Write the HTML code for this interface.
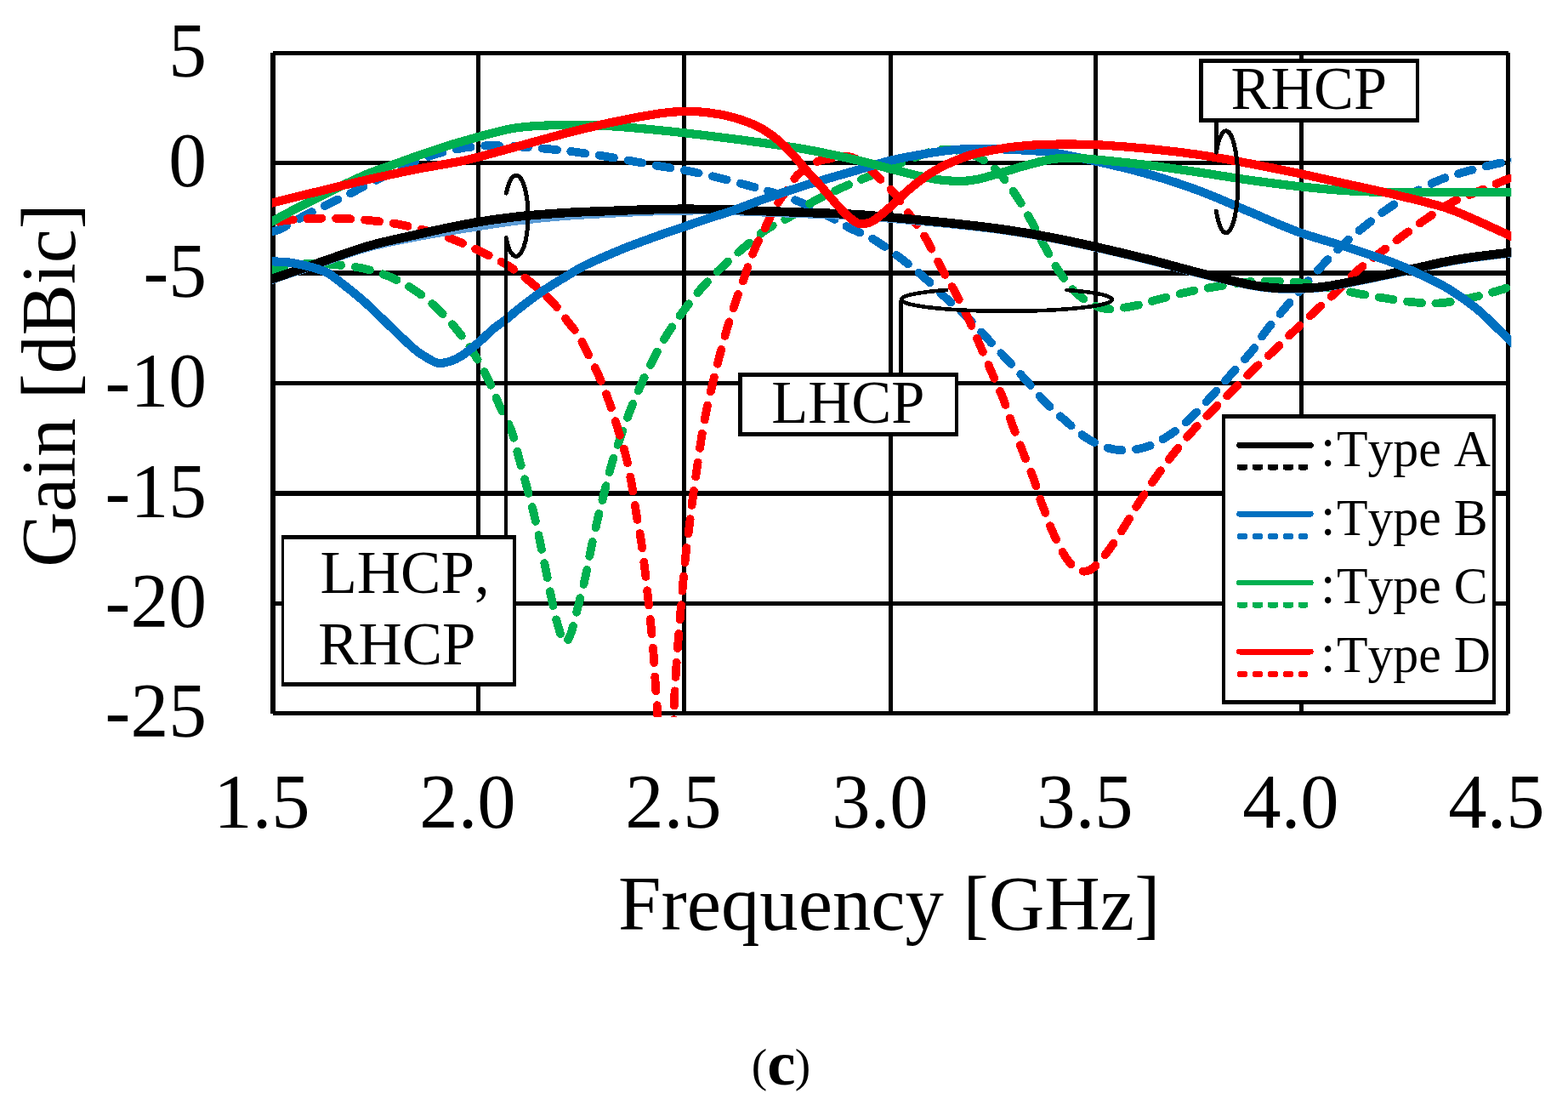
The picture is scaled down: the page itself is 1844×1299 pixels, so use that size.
<!DOCTYPE html>
<html lang="en"><head><meta charset="utf-8"><title>Gain vs Frequency (c)</title>
<style>
html,body{margin:0;padding:0;background:#fff;}
body{width:1844px;height:1299px;overflow:hidden;}
svg{display:block;}
text{font-family:"Liberation Serif","Times New Roman",serif;fill:#000;font-kerning:none;font-variant-ligatures:none;}
.g{stroke:#000;fill:none;}
.c{fill:none;stroke-linejoin:round;}
</style></head><body>
<svg width="1844" height="1299" viewBox="0 0 1844 1299" shape-rendering="crispEdges">
<defs><clipPath id="cp"><rect x="320" y="58" width="1457.3" height="785"/></clipPath></defs>
<rect width="1844" height="1299" fill="#fff"/>
<g fill="#000">
<rect x="560.0" y="62" width="5" height="777"/>
<rect x="802.0" y="62" width="5" height="777"/>
<rect x="1045.0" y="62" width="5" height="777"/>
<rect x="1286.0" y="62" width="5" height="777"/>
<rect x="1528.0" y="62" width="5" height="777"/>
<rect x="320" y="189.0" width="1454" height="5"/>
<rect x="320" y="318.3" width="1454" height="5.4"/>
<rect x="320" y="448.0" width="1454" height="5"/>
<rect x="320" y="577.2" width="1454" height="5.6"/>
<rect x="320" y="707.0" width="1454" height="5"/>
<rect x="318" y="62" width="6" height="777"/>
<rect x="1771" y="62" width="5" height="777"/>
<rect x="321" y="60" width="1453" height="5"/>
<rect x="321" y="836" width="1453" height="5"/>
</g>
<g clip-path="url(#cp)">
<g class="c" stroke="#0070c0" stroke-width="9.8" stroke-linecap="round" stroke-dasharray="17.3 16.53">
<path d="M316.0 274.0C316.7 273.7 317.7 273.1 320.0 272.3C322.3 271.5 323.2 272.3 329.8 269.1C336.4 265.9 349.5 258.0 359.4 252.9C369.3 247.8 379.2 243.3 389.1 238.5C399.0 233.7 408.9 228.9 419.0 223.8C429.1 218.7 439.9 213.0 450.0 208.0C460.1 203.0 469.2 198.0 479.5 193.6C489.8 189.2 501.9 184.5 512.0 181.4C522.1 178.3 533.4 176.3 540.0 174.9C546.6 173.5 545.4 173.6 551.7 173.0C558.0 172.4 568.1 171.2 577.9 171.1C587.7 171.0 599.0 171.7 610.4 172.4C621.8 173.1 635.1 174.2 646.5 175.3C657.9 176.4 668.0 177.6 679.0 179.0C690.0 180.4 701.5 182.1 712.7 183.9C723.9 185.7 736.3 188.1 746.3 189.9C756.3 191.7 766.2 193.7 772.5 194.8C778.8 195.9 777.5 195.4 784.2 196.6C790.9 197.8 802.6 199.6 812.9 201.7C823.2 203.8 835.0 206.5 846.0 209.2C857.0 211.9 868.7 215.1 879.0 217.9C889.3 220.7 897.5 222.8 907.7 226.0C917.9 229.2 928.6 232.3 940.2 237.3C951.9 242.3 967.6 250.8 977.6 256.0C987.6 261.2 991.8 264.2 1000.0 268.4C1008.2 272.6 1016.7 275.0 1026.7 281.0C1036.7 287.0 1049.8 296.5 1060.0 304.2C1070.2 311.9 1078.9 319.2 1087.8 327.0C1096.7 334.8 1105.0 343.5 1113.3 351.2C1121.6 358.9 1129.5 365.3 1137.4 373.0C1145.3 380.7 1152.8 389.1 1160.5 397.3C1168.2 405.5 1176.1 413.9 1183.8 422.2C1191.5 430.5 1198.9 438.5 1206.5 446.9C1214.1 455.3 1221.3 464.6 1229.2 472.7C1237.1 480.8 1245.5 488.2 1253.9 495.4C1262.3 502.6 1270.2 510.5 1279.7 516.0C1289.2 521.5 1299.9 526.7 1310.7 528.4C1321.5 530.1 1334.1 529.1 1344.7 526.4C1355.3 523.6 1365.3 517.8 1374.6 511.9C1383.9 506.0 1392.2 498.9 1400.4 491.3C1408.7 483.7 1416.5 474.8 1424.1 466.5C1431.7 458.2 1438.3 450.7 1446.2 441.8C1454.1 432.9 1464.5 422.3 1471.7 413.4C1478.9 404.5 1482.7 397.0 1489.2 388.5C1495.8 380.0 1503.7 370.9 1511.0 362.3C1518.3 353.7 1525.5 345.2 1532.9 336.7C1540.3 328.2 1547.9 319.6 1555.6 311.4C1563.3 303.2 1571.0 295.1 1579.3 287.5C1587.6 279.9 1596.4 272.8 1605.2 265.8C1614.0 258.8 1622.9 251.7 1632.0 245.4C1641.1 239.1 1650.0 233.6 1660.0 228.0C1670.0 222.4 1681.3 216.4 1691.8 212.1C1702.3 207.8 1712.5 205.0 1723.2 201.9C1733.9 198.8 1747.2 195.6 1756.2 193.4C1765.2 191.2 1773.2 189.8 1777.3 189.0C1781.4 188.2 1780.4 188.4 1781.0 188.3" stroke-dashoffset="-5.63"/>
</g>
<g class="c" stroke="#00b050" stroke-width="9.8" stroke-linecap="round" stroke-dasharray="17.3 16.53">
<path d="M316.0 317.6C316.7 317.5 318.4 317.3 320.0 317.0C321.6 316.7 318.5 317.2 325.5 316.0C332.5 314.8 350.7 310.8 361.9 310.0C373.1 309.2 381.9 310.2 392.8 311.1C403.7 312.0 416.1 313.2 427.1 315.6C438.1 318.0 448.6 321.2 458.9 325.6C469.1 330.0 479.2 335.5 488.6 341.8C498.0 348.1 506.8 355.6 515.0 363.4C523.2 371.1 530.8 379.6 537.8 388.3C544.8 397.0 551.2 406.0 557.2 415.4C563.2 424.8 568.7 434.9 573.6 444.9C578.5 454.9 582.1 464.9 586.8 475.2C591.5 485.5 597.6 496.1 601.6 506.8C605.6 517.5 607.5 528.4 610.5 539.2C613.5 550.0 616.4 560.8 619.3 571.7C622.2 582.6 625.4 593.6 628.0 604.6C630.6 615.6 632.9 626.6 635.2 637.6C637.5 648.6 639.8 659.6 642.0 670.6C644.2 681.6 646.2 692.6 648.6 703.6C651.0 714.6 653.9 728.1 656.5 736.6C659.1 745.1 661.6 753.4 664.1 754.8C666.6 756.2 668.7 751.6 671.3 744.8C673.9 738.0 676.8 724.9 679.6 713.9C682.4 702.9 685.8 690.1 688.3 678.8C690.8 667.4 692.6 656.8 694.9 645.8C697.2 634.8 700.0 622.8 702.3 612.8C704.6 602.8 706.1 597.1 708.9 586.0C711.7 574.9 715.8 557.7 719.2 546.0C722.6 534.3 725.5 526.1 729.1 515.6C732.7 505.1 736.8 493.6 740.9 483.0C745.0 472.4 749.3 462.3 753.9 452.1C758.5 441.9 763.4 431.8 768.7 421.6C774.0 411.4 779.9 400.4 785.9 390.9C791.9 381.4 798.0 373.2 804.6 364.4C811.2 355.6 818.3 346.4 825.8 337.9C833.3 329.4 841.5 321.3 849.5 313.6C857.5 305.9 865.2 299.2 873.9 291.9C882.6 284.6 892.4 275.8 901.5 269.7C910.6 263.6 918.8 260.9 928.3 255.3C937.8 249.7 947.8 241.8 958.2 236.0C968.6 230.2 980.8 224.9 990.7 220.4C1000.6 215.9 1008.0 213.1 1017.4 209.2C1026.8 205.3 1036.8 201.3 1047.2 197.0C1057.6 192.7 1071.2 186.8 1080.0 183.5C1088.8 180.2 1094.2 178.3 1100.0 177.0C1105.8 175.7 1109.2 175.3 1115.0 175.6C1120.8 175.9 1128.1 176.9 1135.0 179.0C1141.9 181.1 1149.6 183.8 1156.4 188.0C1163.2 192.2 1169.2 197.0 1175.8 204.2C1182.3 211.4 1189.6 221.8 1195.7 231.0C1201.8 240.2 1207.0 249.7 1212.6 259.7C1218.2 269.7 1223.7 280.9 1229.2 290.8C1234.7 300.7 1239.2 310.0 1245.5 319.2C1251.8 328.4 1258.8 338.8 1267.3 346.0C1275.8 353.2 1286.2 359.9 1296.6 362.3C1307.0 364.7 1318.8 362.1 1329.7 360.4C1340.6 358.7 1351.2 354.8 1362.1 352.0C1373.0 349.2 1384.2 346.1 1395.2 343.6C1406.2 341.2 1416.3 339.3 1428.2 337.3C1440.1 335.3 1455.5 332.6 1466.8 331.5C1478.1 330.4 1485.6 330.4 1496.1 330.5C1506.6 330.6 1518.7 331.1 1530.0 332.4C1541.3 333.7 1552.6 336.4 1563.8 338.5C1575.0 340.6 1586.0 343.1 1597.1 345.1C1608.2 347.2 1619.1 349.1 1630.2 350.8C1641.3 352.5 1652.7 354.5 1663.5 355.4C1674.3 356.3 1683.4 357.2 1695.0 356.2C1706.6 355.2 1722.0 351.8 1733.3 349.3C1744.6 346.8 1755.8 343.5 1763.1 341.4C1770.4 339.3 1774.3 337.5 1777.3 336.5C1780.3 335.5 1780.4 335.4 1781.0 335.2" stroke-dashoffset="-1.17"/>
</g>
<g class="c" stroke="#ff0000" stroke-width="9.8" stroke-linecap="round" stroke-dasharray="17.3 16.53">
<path d="M316.0 263.0C316.7 262.9 316.6 263.1 320.0 262.5C323.4 261.9 328.4 260.0 336.7 259.1C345.0 258.2 358.8 257.2 370.0 256.9C381.2 256.5 392.8 256.6 404.1 257.0C415.4 257.4 426.6 258.2 437.7 259.4C448.8 260.6 460.0 262.0 471.0 264.1C482.0 266.2 493.0 268.7 503.9 271.8C514.8 274.9 525.6 278.6 536.3 282.8C547.0 287.0 558.1 292.1 568.2 297.0C578.3 301.9 587.9 306.4 597.1 312.1C606.3 317.8 614.5 324.1 623.3 331.2C632.0 338.3 641.7 346.6 649.6 355.0C657.5 363.4 665.4 375.2 670.5 381.6C675.6 388.0 677.0 388.8 680.0 393.5C683.0 398.2 684.3 401.9 688.3 409.8C692.2 417.7 699.1 430.4 703.7 440.7C708.3 451.0 712.3 461.2 716.1 471.7C719.9 482.2 723.1 492.9 726.4 503.7C729.7 514.5 733.4 525.4 736.1 536.3C738.9 547.2 740.9 558.3 742.9 569.3C744.9 580.3 746.3 591.5 748.1 602.5C749.9 613.5 752.2 624.3 753.9 635.5C755.6 646.7 757.0 658.4 758.4 669.6C759.8 680.8 760.9 691.4 762.1 702.6C763.3 713.8 764.5 725.3 765.6 736.6C766.7 747.9 767.8 759.4 768.7 770.6C769.6 781.8 770.0 792.6 770.8 803.6C771.5 814.6 772.6 827.2 773.2 836.7C773.8 846.2 772.9 847.7 774.5 860.4C776.1 873.1 780.2 913.0 783.0 913.0C785.8 913.0 789.7 875.7 791.4 860.4C793.1 845.1 792.5 833.4 793.1 821.2C793.7 809.0 794.4 798.5 795.1 787.1C795.9 775.8 796.7 764.3 797.6 753.1C798.5 741.9 799.4 731.3 800.3 720.1C801.2 708.9 802.2 697.3 803.2 686.1C804.2 674.9 805.1 664.2 806.3 653.0C807.5 641.8 809.3 629.5 810.6 619.0C811.9 608.5 812.7 601.1 814.1 590.1C815.5 579.1 817.4 566.2 819.3 553.2C821.2 540.2 823.3 524.3 825.4 511.9C827.5 499.5 829.4 489.5 831.6 478.9C833.8 468.2 836.6 457.3 838.8 448.0C841.0 438.7 842.4 433.2 845.0 423.2C847.6 413.2 851.0 399.7 854.5 388.0C858.0 376.3 862.1 363.7 865.7 353.1C869.3 342.5 872.9 332.9 876.0 324.2C879.1 315.5 881.5 307.9 884.2 301.0C886.9 294.1 889.3 288.6 892.0 283.0C894.7 277.4 897.6 272.5 900.2 267.2C902.8 261.9 905.0 256.2 907.7 251.0C910.4 245.8 913.6 240.6 916.5 236.0C919.4 231.4 921.7 228.5 925.2 223.5C928.7 218.5 933.1 210.9 937.7 206.1C942.3 201.3 948.0 197.7 952.6 194.8C957.2 191.9 959.9 190.1 965.1 188.6C970.3 187.1 978.0 186.3 983.8 185.6C989.6 184.9 994.5 183.1 1000.0 184.4C1005.5 185.7 1011.8 189.9 1017.0 193.6C1022.2 197.3 1025.3 201.1 1031.1 206.7C1036.9 212.3 1044.6 218.8 1051.7 227.3C1058.8 235.8 1067.5 249.3 1073.5 257.8C1079.5 266.3 1081.9 268.3 1087.8 278.4C1093.7 288.5 1103.0 307.4 1109.0 318.5C1115.0 329.6 1118.9 335.2 1124.0 344.8C1129.1 354.4 1134.6 365.5 1139.4 375.8C1144.2 386.1 1148.3 396.4 1152.8 406.7C1157.3 417.0 1161.7 427.4 1166.2 437.7C1170.7 448.0 1175.6 458.1 1179.7 468.6C1183.8 479.1 1187.0 490.0 1191.0 500.6C1195.0 511.2 1199.3 522.0 1203.4 532.5C1207.5 543.0 1212.5 554.6 1215.8 563.5C1219.1 572.4 1220.8 579.5 1223.0 586.0C1225.2 592.5 1226.6 595.8 1229.2 602.5C1231.8 609.2 1234.3 617.3 1238.4 626.2C1242.5 635.1 1249.2 649.1 1253.9 656.1C1258.6 663.1 1262.5 665.9 1266.3 668.5C1270.1 671.1 1273.2 671.9 1276.6 671.6C1280.0 671.3 1282.2 670.8 1286.9 666.5C1291.6 662.2 1298.5 653.9 1304.5 645.8C1310.5 637.7 1317.3 626.9 1323.0 618.0C1328.7 609.1 1332.5 601.6 1338.5 592.2C1344.5 582.8 1352.2 571.2 1359.1 561.4C1366.0 551.6 1372.8 542.5 1379.8 533.6C1386.8 524.7 1393.9 516.2 1401.4 507.8C1409.0 499.4 1417.3 490.9 1425.1 483.0C1432.9 475.1 1440.3 468.3 1448.3 460.4C1456.3 452.5 1464.7 443.6 1473.0 435.6C1481.3 427.6 1489.8 420.1 1497.9 412.4C1506.1 404.6 1513.8 396.9 1521.9 389.1C1530.0 381.3 1538.4 373.4 1546.6 365.8C1554.8 358.2 1562.7 351.5 1570.9 343.6C1579.2 335.7 1587.5 326.0 1596.1 318.4C1604.7 310.8 1613.5 304.5 1622.3 297.7C1631.1 290.9 1639.9 284.3 1649.1 277.6C1658.2 270.9 1667.5 263.9 1677.2 257.3C1686.9 250.7 1697.1 243.5 1707.0 238.2C1716.9 232.9 1726.9 229.8 1736.8 225.7C1746.7 221.5 1759.5 216.1 1766.2 213.3C1773.0 210.5 1774.8 209.9 1777.3 209.0C1779.8 208.1 1780.4 207.8 1781.0 207.6" stroke-dashoffset="-11.96"/>
</g>
<path class="c" d="M316.0 330.2C316.7 330.0 310.1 332.2 320.0 328.8C329.9 325.4 356.6 316.2 375.4 309.8C394.2 303.5 413.7 296.0 432.8 290.8C451.9 285.6 470.9 282.1 490.1 278.4C509.3 274.7 528.8 271.6 548.0 268.5C567.2 265.4 586.3 262.3 605.4 259.9C624.5 257.5 643.7 255.6 662.8 254.1C681.9 252.6 700.9 251.7 720.1 250.7C739.3 249.7 758.8 248.7 778.0 248.2C797.2 247.7 816.3 247.3 835.4 247.5C854.5 247.7 873.7 248.7 892.8 249.4C911.9 250.1 930.9 250.8 950.1 251.5C969.3 252.2 988.8 252.5 1008.0 253.7C1027.2 254.8 1046.3 256.8 1065.4 258.5C1084.5 260.2 1103.7 261.9 1122.8 263.9C1141.9 265.9 1160.9 267.9 1180.1 270.6C1199.3 273.3 1218.8 276.6 1238.0 280.2C1257.2 283.8 1276.3 288.2 1295.4 292.5C1314.5 296.8 1333.7 301.4 1352.8 306.2C1371.9 311.0 1390.9 316.6 1410.1 321.4C1429.3 326.2 1453.6 332.0 1468.0 335.0C1482.4 338.0 1487.1 338.3 1496.7 339.1C1506.3 339.9 1515.8 339.9 1525.4 339.8C1535.0 339.6 1544.5 339.3 1554.1 338.2C1563.7 337.2 1573.2 335.2 1582.8 333.5C1592.3 331.7 1601.9 329.7 1611.4 327.7C1621.0 325.7 1630.5 323.8 1640.1 321.7C1649.7 319.6 1659.1 317.5 1668.8 315.4C1678.5 313.3 1688.0 310.8 1698.0 308.9C1708.0 306.9 1715.3 305.6 1728.5 303.7C1741.7 301.8 1768.2 298.7 1777.0 297.6C1785.8 296.5 1780.3 297.2 1781.0 297.1" stroke="#5b9bd5" stroke-width="10"/>
<path class="c" d="M316.0 329.4C316.7 329.2 310.1 331.4 320.0 328.0C329.9 324.6 356.6 315.2 375.4 308.8C394.2 302.4 413.7 294.8 432.8 289.3C451.9 283.8 470.9 280.1 490.1 275.8C509.3 271.5 528.8 267.0 548.0 263.5C567.2 260.0 586.3 257.2 605.4 255.0C624.5 252.8 643.7 251.5 662.8 250.3C681.9 249.1 700.9 248.6 720.1 247.9C739.3 247.2 758.8 246.3 778.0 246.0C797.2 245.7 816.3 245.7 835.4 246.0C854.5 246.3 873.7 247.2 892.8 247.9C911.9 248.6 930.9 249.3 950.1 250.0C969.3 250.7 988.8 251.0 1008.0 252.2C1027.2 253.4 1046.3 255.4 1065.4 257.2C1084.5 259.0 1103.7 260.7 1122.8 262.8C1141.9 264.9 1160.9 266.9 1180.1 269.7C1199.3 272.5 1218.8 275.8 1238.0 279.5C1257.2 283.2 1276.3 287.5 1295.4 291.8C1314.5 296.1 1333.7 300.7 1352.8 305.5C1371.9 310.3 1390.9 315.9 1410.1 320.7C1429.3 325.5 1453.6 331.4 1468.0 334.3C1482.4 337.2 1487.1 337.6 1496.7 338.4C1506.3 339.2 1515.8 339.2 1525.4 339.0C1535.0 338.8 1544.5 338.5 1554.1 337.4C1563.7 336.3 1573.2 334.4 1582.8 332.6C1592.3 330.8 1601.9 328.8 1611.4 326.8C1621.0 324.8 1630.5 322.9 1640.1 320.8C1649.7 318.8 1659.1 316.6 1668.8 314.5C1678.5 312.4 1688.0 309.9 1698.0 308.0C1708.0 306.1 1715.3 304.7 1728.5 302.8C1741.7 300.9 1768.2 297.8 1777.0 296.7C1785.8 295.6 1780.3 296.3 1781.0 296.2" stroke="#000" stroke-width="10.6"/>
<path class="c" d="M316.0 307.2C316.7 307.2 315.2 306.9 320.0 307.3C324.8 307.7 334.9 307.4 345.0 309.3C355.1 311.2 371.2 314.9 380.4 318.6C389.6 322.3 391.9 325.4 400.0 331.5C408.1 337.6 419.1 346.4 428.7 354.9C438.3 363.4 447.8 373.2 457.4 382.3C467.0 391.4 479.0 403.3 486.1 409.4C493.2 415.5 495.0 416.2 499.8 419.1C504.6 422.0 509.8 425.8 514.8 426.7C519.8 427.6 524.9 426.2 529.7 424.7C534.5 423.2 538.0 421.5 543.4 417.9C548.8 414.3 556.0 408.5 562.2 403.2C568.4 397.9 575.3 390.7 580.8 386.1C586.3 381.5 590.4 379.3 595.0 375.7C599.6 372.1 603.9 368.0 608.5 364.3C613.1 360.6 617.8 357.2 622.4 353.7C627.0 350.2 631.6 346.7 636.2 343.5C640.8 340.3 645.3 337.5 650.1 334.5C654.9 331.5 658.9 329.1 665.0 325.5C671.1 321.9 676.0 317.9 686.8 312.6C697.6 307.3 717.0 299.0 730.0 293.6C743.0 288.2 753.0 284.7 765.0 280.3C777.0 275.9 790.4 271.4 802.1 267.4C813.8 263.3 825.8 259.2 835.4 256.0C845.0 252.8 850.4 251.5 860.0 248.2C869.6 244.9 877.8 241.2 892.8 236.0C907.8 230.8 930.9 222.9 950.1 216.9C969.3 210.9 992.1 204.7 1008.0 200.1C1023.9 195.5 1032.9 192.3 1045.4 189.2C1057.9 186.1 1069.9 183.9 1082.8 181.7C1095.7 179.5 1110.3 177.2 1122.8 176.1C1135.3 175.0 1145.7 174.9 1157.7 174.9C1169.8 174.9 1181.7 175.3 1195.1 176.1C1208.5 176.9 1221.3 177.0 1238.0 179.5C1254.7 182.0 1276.3 186.8 1295.4 191.1C1314.5 195.4 1333.7 199.9 1352.8 205.4C1371.9 210.9 1390.9 217.0 1410.1 224.2C1429.3 231.3 1448.8 240.3 1468.0 248.3C1487.2 256.3 1506.3 265.2 1525.4 272.2C1544.5 279.2 1563.7 284.0 1582.8 290.2C1601.9 296.4 1625.8 304.2 1640.1 309.5C1654.4 314.8 1659.1 317.5 1668.8 322.0C1678.5 326.5 1689.7 331.8 1698.0 336.4C1706.3 341.0 1712.3 345.2 1718.5 349.5C1724.7 353.8 1730.2 357.8 1735.4 362.0C1740.6 366.2 1742.5 367.9 1749.4 374.5C1756.3 381.1 1771.7 396.4 1777.0 401.6C1782.3 406.9 1780.3 405.3 1781.0 406.0" stroke="#0070c0" stroke-width="10.2"/>
<path class="c" d="M316.0 262.5C316.7 262.1 314.9 263.1 320.0 260.3C325.1 257.6 337.5 250.8 346.7 246.0C355.9 241.2 365.8 236.5 375.4 231.7C385.0 226.9 394.5 221.9 404.1 217.3C413.7 212.7 423.2 208.1 432.8 204.2C442.4 200.3 451.8 197.3 461.4 193.9C470.9 190.5 480.5 186.9 490.1 183.6C499.7 180.3 509.1 177.0 518.8 173.9C528.4 170.8 533.6 168.9 548.0 165.0C562.4 161.1 586.3 153.6 605.4 150.6C624.5 147.6 643.7 147.3 662.8 146.9C681.9 146.5 700.9 147.3 720.1 148.4C739.3 149.5 758.8 151.5 778.0 153.4C797.2 155.3 816.3 157.6 835.4 159.9C854.5 162.2 873.7 164.7 892.8 167.4C911.9 170.1 930.9 172.6 950.1 176.1C969.3 179.6 992.1 184.7 1008.0 188.3C1023.9 192.0 1032.9 194.8 1045.4 198.0C1057.9 201.2 1072.4 205.0 1082.8 207.3C1093.2 209.6 1099.5 210.8 1107.8 211.7C1116.1 212.6 1125.4 213.1 1132.7 212.9C1140.0 212.7 1143.5 212.2 1151.4 210.4C1159.3 208.6 1170.7 205.0 1180.1 202.3C1189.5 199.6 1197.9 196.8 1207.6 194.2C1217.2 191.6 1228.3 188.4 1238.0 187.0C1247.7 185.6 1256.4 185.8 1266.0 186.0C1275.6 186.2 1280.9 186.8 1295.4 188.2C1309.9 189.6 1333.7 192.1 1352.8 194.5C1371.9 196.9 1390.9 199.8 1410.1 202.6C1429.3 205.4 1448.8 208.8 1468.0 211.5C1487.2 214.2 1506.3 216.8 1525.4 218.9C1544.5 221.0 1563.7 223.0 1582.8 224.2C1601.9 225.4 1620.9 225.8 1640.1 226.1C1659.3 226.4 1675.2 225.8 1698.0 225.8C1720.8 225.8 1763.2 225.9 1777.0 225.9C1790.8 225.9 1780.3 225.9 1781.0 225.9" stroke="#00b050" stroke-width="10.2"/>
<path class="c" d="M316.0 239.5C316.7 239.3 310.1 240.9 320.0 238.5C329.9 236.1 356.6 229.4 375.4 224.8C394.2 220.2 413.7 215.4 432.8 211.1C451.9 206.8 470.9 202.7 490.1 198.9C509.3 195.1 528.8 192.5 548.0 188.2C567.2 183.9 586.3 178.1 605.4 173.0C624.5 167.9 643.7 162.3 662.8 157.4C681.9 152.5 700.9 147.8 720.1 143.7C739.3 139.6 763.6 135.2 778.0 133.1C792.4 131.0 797.1 131.1 806.7 131.0C816.3 130.9 825.8 131.4 835.4 132.7C845.0 133.9 854.5 135.7 864.1 138.5C873.7 141.3 884.3 145.2 892.8 149.6C901.3 154.0 908.4 159.2 915.2 164.9C922.1 170.6 928.1 177.4 933.9 183.6C939.7 189.8 944.9 196.5 950.1 202.3C955.3 208.1 960.1 212.9 965.1 218.5C970.1 224.1 975.1 230.4 980.1 236.0C985.1 241.6 990.4 247.7 995.0 252.0C999.6 256.3 1004.5 260.2 1008.0 262.0C1011.5 263.8 1012.9 263.4 1016.0 263.0C1019.1 262.6 1021.8 262.8 1026.7 259.7C1031.6 256.6 1039.0 250.3 1045.4 244.7C1051.9 239.1 1058.8 231.8 1065.4 226.0C1072.1 220.2 1078.7 214.6 1085.3 209.8C1091.9 205.0 1099.0 200.7 1105.3 197.3C1111.5 193.9 1116.1 191.9 1122.8 189.2C1129.5 186.5 1135.7 183.6 1145.2 181.1C1154.8 178.6 1169.7 176.0 1180.1 174.3C1190.5 172.6 1197.9 171.9 1207.6 171.1C1217.2 170.3 1228.3 169.9 1238.0 169.7C1247.7 169.4 1256.4 169.5 1266.0 169.6C1275.6 169.7 1280.9 169.6 1295.4 170.5C1309.9 171.4 1333.7 173.2 1352.8 175.1C1371.9 177.0 1390.9 179.2 1410.1 182.0C1429.3 184.8 1448.8 188.4 1468.0 192.0C1487.2 195.6 1506.3 199.4 1525.4 203.4C1544.5 207.4 1563.7 211.9 1582.8 216.1C1601.9 220.3 1620.9 224.2 1640.1 228.8C1659.3 233.4 1683.3 239.1 1698.0 243.6C1712.7 248.1 1715.3 249.9 1728.5 255.6C1741.7 261.3 1768.2 273.6 1777.0 277.6C1785.8 281.6 1780.3 279.2 1781.0 279.5" stroke="#ff0000" stroke-width="10.2"/>
</g>
<g class="g" stroke-linecap="round">
<path d="M595.4 227 A14 47.7 0 1 1 595.2 279.5" stroke-width="5"/>
<path d="M595.2 279.5 V631" stroke-width="3.8" stroke-linecap="butt"/>
<path d="M1430.5 179 A14 60 0 1 1 1430.4 248.2" stroke-width="5"/>
<path d="M1430.5 143 V179" stroke-width="4.6"/>
<path d="M1113 341 A124 13.6 0 1 0 1254.5 341" stroke-width="4.6"/>
<path d="M1059.6 353 V440" stroke-width="5" stroke-linecap="butt"/>
</g>
<rect x="330.5" y="629.3" width="276.50" height="177.70" fill="#000"/>
<rect x="334.10" y="634.30" width="268.40" height="167.70" fill="#fff"/>
<rect x="868.2" y="438.3" width="258.40" height="74.70" fill="#000"/>
<rect x="873.10" y="443.30" width="249.50" height="64.70" fill="#fff"/>
<rect x="1410.4" y="69.1" width="258.50" height="74.60" fill="#000"/>
<rect x="1415.10" y="74.10" width="250.20" height="64.60" fill="#fff"/>
<text transform="translate(376.4 697.4) scale(1.015 1.022)" font-size="70" text-anchor="start">LHCP,</text>
<text transform="translate(374.3 781) scale(1.013 1.022)" font-size="70" text-anchor="start">RHCP</text>
<text transform="translate(907.2 496.5) scale(1.007 1.022)" font-size="70" text-anchor="start">LHCP</text>
<text transform="translate(1447.6 127.6) scale(1.003 1.022)" font-size="70" text-anchor="start">RHCP</text>
<rect x="1436.5" y="487.2" width="322.40" height="340.60" fill="#000"/>
<rect x="1440.90" y="492.20" width="314.10" height="330.60" fill="#fff"/>
<line x1="1457.6" y1="523.3" x2="1541.3" y2="523.3" stroke="#000" stroke-width="6.8" stroke-linecap="round"/>
<line x1="1458" y1="549.1" x2="1535" y2="549.1" stroke="#000" stroke-width="7" stroke-linecap="round" stroke-dasharray="6 12"/>
<text transform="translate(1571.9 548) scale(0.997 1.025)" font-size="60"><tspan x="-19.0" font-size="63">:</tspan><tspan x="0">Type A</tspan></text>
<line x1="1457.6" y1="604.2" x2="1541.3" y2="604.2" stroke="#0070c0" stroke-width="6.8" stroke-linecap="round"/>
<line x1="1458" y1="630.4" x2="1535" y2="630.4" stroke="#0070c0" stroke-width="7" stroke-linecap="round" stroke-dasharray="6 12"/>
<text transform="translate(1571.9 628.7) scale(0.997 1.025)" font-size="60"><tspan x="-19.0" font-size="63">:</tspan><tspan x="0">Type B</tspan></text>
<line x1="1457.6" y1="685" x2="1541.3" y2="685" stroke="#00b050" stroke-width="6.8" stroke-linecap="round"/>
<line x1="1458" y1="711.2" x2="1535" y2="711.2" stroke="#00b050" stroke-width="7" stroke-linecap="round" stroke-dasharray="6 12"/>
<text transform="translate(1571.9 709.4) scale(0.997 1.025)" font-size="60"><tspan x="-19.0" font-size="63">:</tspan><tspan x="0">Type C</tspan></text>
<line x1="1457.6" y1="766.1" x2="1541.3" y2="766.1" stroke="#ff0000" stroke-width="6.8" stroke-linecap="round"/>
<line x1="1458" y1="792.3" x2="1535" y2="792.3" stroke="#ff0000" stroke-width="7" stroke-linecap="round" stroke-dasharray="6 12"/>
<text transform="translate(1571.9 790.2) scale(0.997 1.025)" font-size="60"><tspan x="-19.0" font-size="63">:</tspan><tspan x="0">Type D</tspan></text>
<text transform="translate(243 90.0) scale(1.018 1.03)" font-size="88" text-anchor="end">5</text>
<text transform="translate(243 219.0) scale(1.018 1.03)" font-size="88" text-anchor="end">0</text>
<text transform="translate(243 348.5) scale(1.018 1.03)" font-size="88" text-anchor="end">-5</text>
<text transform="translate(243 478.0) scale(1.018 1.03)" font-size="88" text-anchor="end">-10</text>
<text transform="translate(243 607.5) scale(1.018 1.03)" font-size="88" text-anchor="end">-15</text>
<text transform="translate(243 737.0) scale(1.018 1.03)" font-size="88" text-anchor="end">-20</text>
<text transform="translate(243 866.0) scale(1.018 1.03)" font-size="88" text-anchor="end">-25</text>
<text transform="translate(308.0 972.6) scale(1.03 1.035)" font-size="88" text-anchor="middle">1.5</text>
<text transform="translate(550.0 972.6) scale(1.03 1.035)" font-size="88" text-anchor="middle">2.0</text>
<text transform="translate(792.0 972.6) scale(1.03 1.035)" font-size="88" text-anchor="middle">2.5</text>
<text transform="translate(1035.0 972.6) scale(1.03 1.035)" font-size="88" text-anchor="middle">3.0</text>
<text transform="translate(1276.0 972.6) scale(1.03 1.035)" font-size="88" text-anchor="middle">3.5</text>
<text transform="translate(1518.0 972.6) scale(1.03 1.035)" font-size="88" text-anchor="middle">4.0</text>
<text transform="translate(1760.0 972.6) scale(1.03 1.035)" font-size="88" text-anchor="middle">4.5</text>
<text transform="translate(1045.7 1092.5) scale(1.008 1)" font-size="90" text-anchor="middle">Frequency [GHz]</text>
<text transform="translate(87.6 453) rotate(-90) scale(1 1.02)" font-size="90" text-anchor="middle">Gain [dBic]</text>
<text text-anchor="middle"><tspan x="892.9" y="1271" font-size="55.5">(</tspan><tspan x="919" y="1275.2" font-size="75" font-weight="bold">c</tspan><tspan x="944.1" y="1271" font-size="55.5">)</tspan></text>
</svg></body></html>
